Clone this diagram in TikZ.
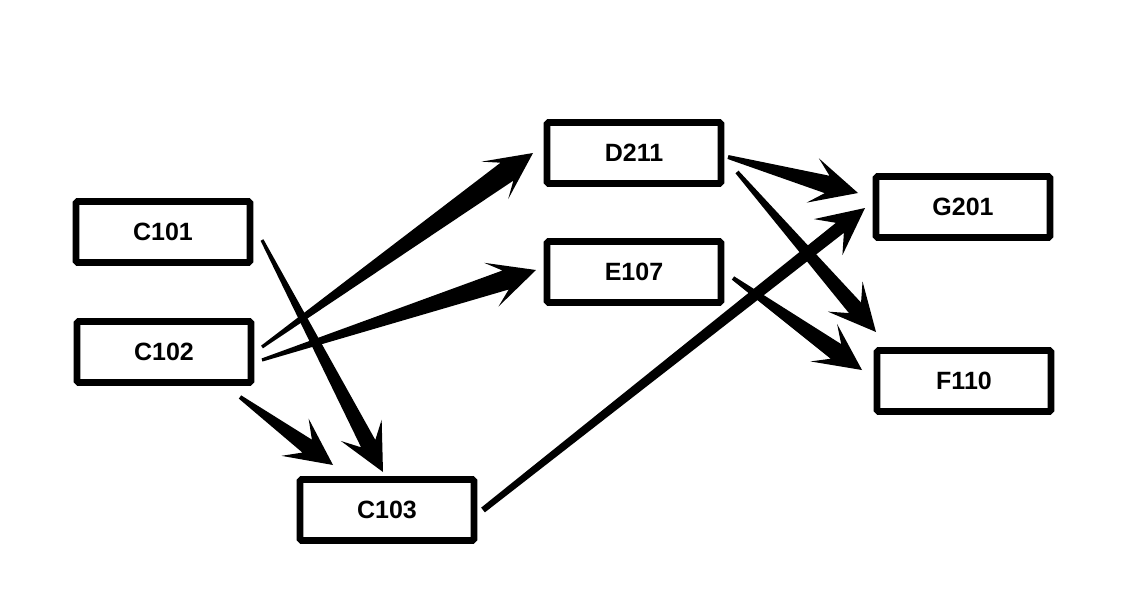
\documentclass[tikz,border=0pt]{standalone}
\usepackage{fontspec}
\setmainfont{Liberation Sans}
\usetikzlibrary{calc}
\tikzset{box/.style={draw, line width=3.3pt, rounded corners=0.8pt, minimum width=87pt, minimum height=30.5pt, inner sep=0pt, font=\bfseries\fontsize{12.5}{14}\selectfont}}
% tapered arrow: start, tip, half width at start, half width at head
\newcommand{\taparrow}[4]{%
\coordinate (hb) at ($(#2)!16pt!(#1)$);
\coordinate (hw) at ($(#2)!23.5pt!(#1)$);
\fill ($(#1)!#3!90:(#2)$) -- ($(hb)!#4!90:(#2)$) -- ($(hw)!11.5pt!90:(#2)$) -- (#2)
  -- ($(hw)!11.5pt!-90:(#2)$) -- ($(hb)!#4!-90:(#2)$) -- ($(#1)!#3!-90:(#2)$) -- cycle;}
\begin{document}
\begin{tikzpicture}[x=0.5pt, y=-0.5pt]
\useasboundingbox (0,0) rectangle (1125,594);
\node[box] (C101) at (163,232) {C101};
\node[box] (C102) at (164,352) {C102};
\node[box] (C103) at (387,510) {C103};
\node[box] (D211) at (634,153) {D211};
\node[box] (E107) at (634,272) {E107};
\node[box] (G201) at (963,207) {G201};
\node[box] (F110) at (964,381) {F110};
% arrow ends
\coordinate (s1) at (262,240); \coordinate (t1) at (383,472);
\coordinate (s2) at (240,397); \coordinate (t2) at (333,465);
\coordinate (s3) at (262,347); \coordinate (t3) at (533,153);
\coordinate (s4) at (262,360); \coordinate (t4) at (536,270);
\coordinate (s5) at (728,157); \coordinate (t5) at (858,193);
\coordinate (s6) at (737,172); \coordinate (t6) at (876,332);
\coordinate (s7) at (733,278); \coordinate (t7) at (862,370);
\coordinate (s8) at (483,510); \coordinate (t8) at (865,208);
\taparrow{s1}{t1}{0.8pt}{4pt}
\taparrow{s2}{t2}{1pt}{4pt}
\taparrow{s3}{t3}{0.8pt}{5.5pt}
\taparrow{s4}{t4}{0.8pt}{5pt}
\taparrow{s5}{t5}{1pt}{4.5pt}
\taparrow{s6}{t6}{1pt}{4pt}
\taparrow{s7}{t7}{1pt}{4.5pt}
\taparrow{s8}{t8}{1.5pt}{3.2pt}
\end{tikzpicture}
\end{document}
